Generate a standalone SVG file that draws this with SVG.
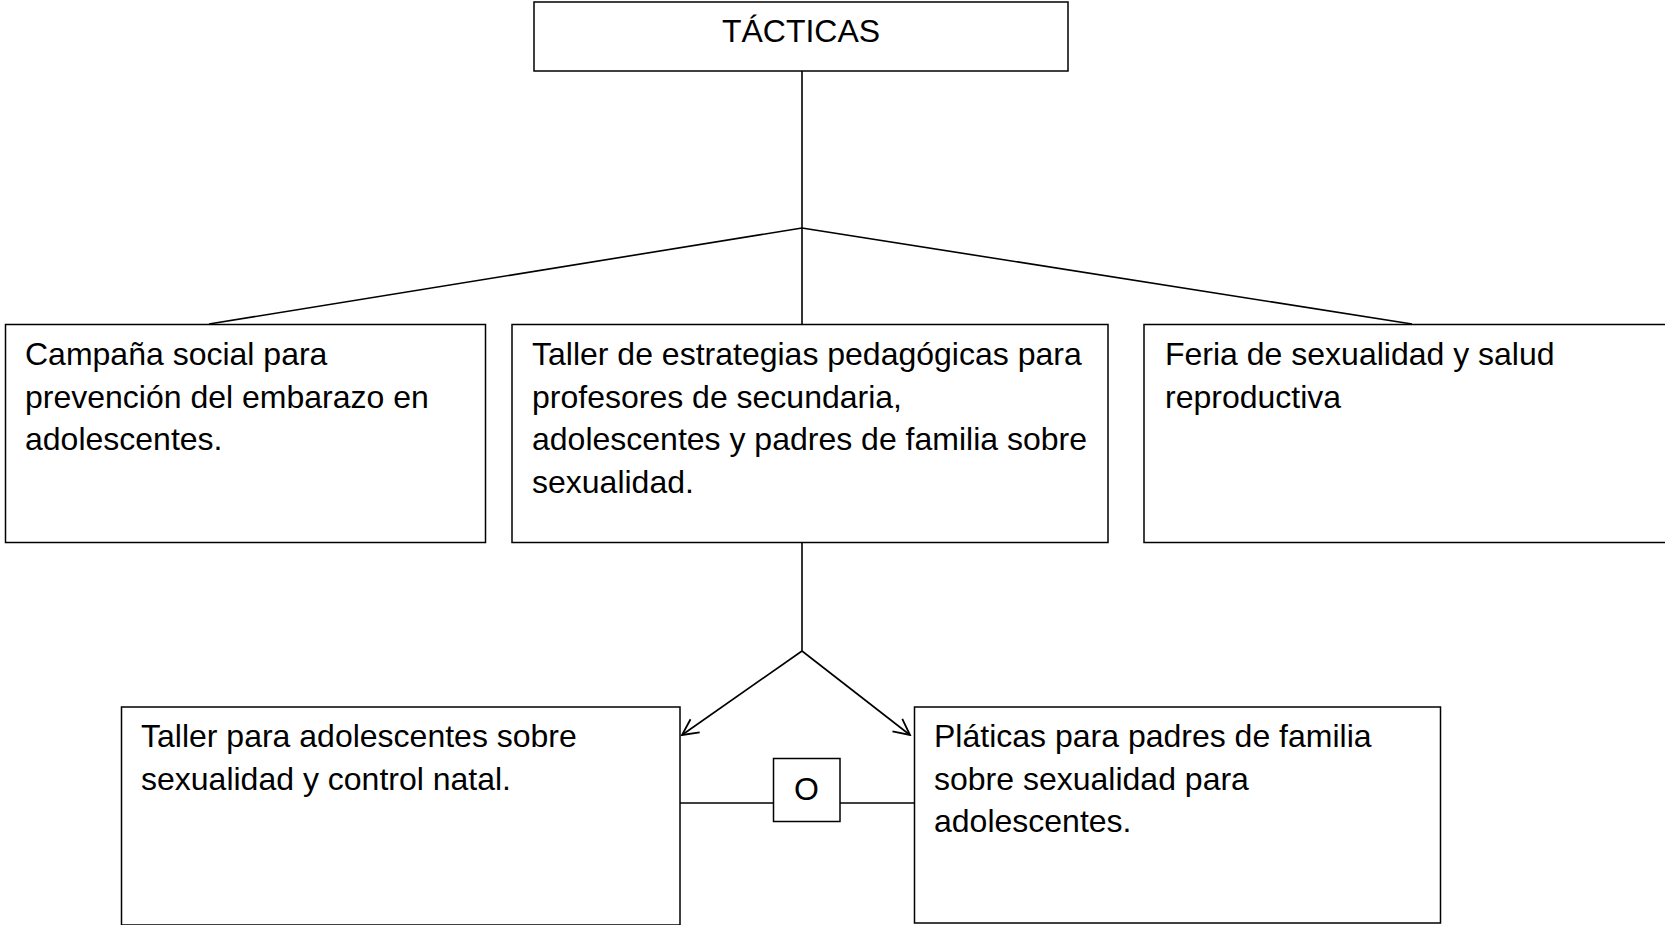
<svg xmlns="http://www.w3.org/2000/svg" width="1665" height="925" viewBox="0 0 1665 925">
<style>
.box{fill:#fff;stroke:#000;stroke-width:1.5}
.t{font-family:"Liberation Sans",Arial,sans-serif;font-size:32px;fill:#000}
.c{fill:none;stroke:#000;stroke-width:1.6}
</style>
<defs>
<marker id="arr" viewBox="0 0 20 20" refX="18" refY="10" markerWidth="20" markerHeight="20" markerUnits="userSpaceOnUse" orient="auto">
<path d="M2,2 L18,10 L2,18" fill="none" stroke="#000" stroke-width="1.8"/>
</marker>
</defs>
<rect width="1665" height="925" fill="#fff"/>
<g id="connectors">
<line class="c" x1="802" y1="71" x2="802" y2="228"/>
<line class="c" x1="802" y1="228" x2="209" y2="324"/>
<line class="c" x1="802" y1="228" x2="802" y2="324"/>
<line class="c" x1="802" y1="228" x2="1412" y2="324"/>
<line class="c" x1="802" y1="543" x2="802" y2="651"/>
<line class="c" x1="802" y1="651" x2="682" y2="735" marker-end="url(#arr)"/>
<line class="c" x1="802" y1="651" x2="910" y2="735" marker-end="url(#arr)"/>
<line class="c" x1="680" y1="803" x2="773" y2="803"/>
<line class="c" x1="840" y1="803" x2="915" y2="803"/>
</g>
<g id="tacticas">
<rect class="box" x="534" y="2" width="534" height="69"/>
<text class="t" x="801" y="42" text-anchor="middle">TÁCTICAS</text>
</g>
<g id="campana">
<rect class="box" x="5.5" y="324.5" width="480" height="218"/>
<text class="t" x="25"><tspan x="25" y="365">Campaña social para</tspan><tspan x="25" y="407.5">prevención del embarazo en</tspan><tspan x="25" y="450">adolescentes.</tspan></text>
</g>
<g id="taller-estrategias">
<rect class="box" x="512" y="324.5" width="596" height="218"/>
<text class="t"><tspan x="532" y="365">Taller de estrategias pedagógicas para</tspan><tspan x="532" y="407.5">profesores de secundaria,</tspan><tspan x="532" y="450">adolescentes y padres de familia sobre</tspan><tspan x="532" y="492.5">sexualidad.</tspan></text>
</g>
<g id="feria">
<rect class="box" x="1144" y="324.5" width="540" height="218"/>
<text class="t"><tspan x="1165" y="365">Feria de sexualidad y salud</tspan><tspan x="1165" y="407.5">reproductiva</tspan></text>
</g>
<g id="taller-adolescentes">
<rect class="box" x="121.5" y="707" width="558.5" height="218"/>
<text class="t"><tspan x="141" y="747">Taller para adolescentes sobre</tspan><tspan x="141" y="789.5">sexualidad y control natal.</tspan></text>
</g>
<g id="o">
<rect class="box" x="773.5" y="758.5" width="66.5" height="63"/>
<text class="t" x="806.5" y="800" text-anchor="middle">O</text>
</g>
<g id="platicas">
<rect class="box" x="914.5" y="707" width="526" height="216"/>
<text class="t"><tspan x="934" y="747">Pláticas para padres de familia</tspan><tspan x="934" y="789.5">sobre sexualidad para</tspan><tspan x="934" y="832">adolescentes.</tspan></text>
</g>
</svg>
